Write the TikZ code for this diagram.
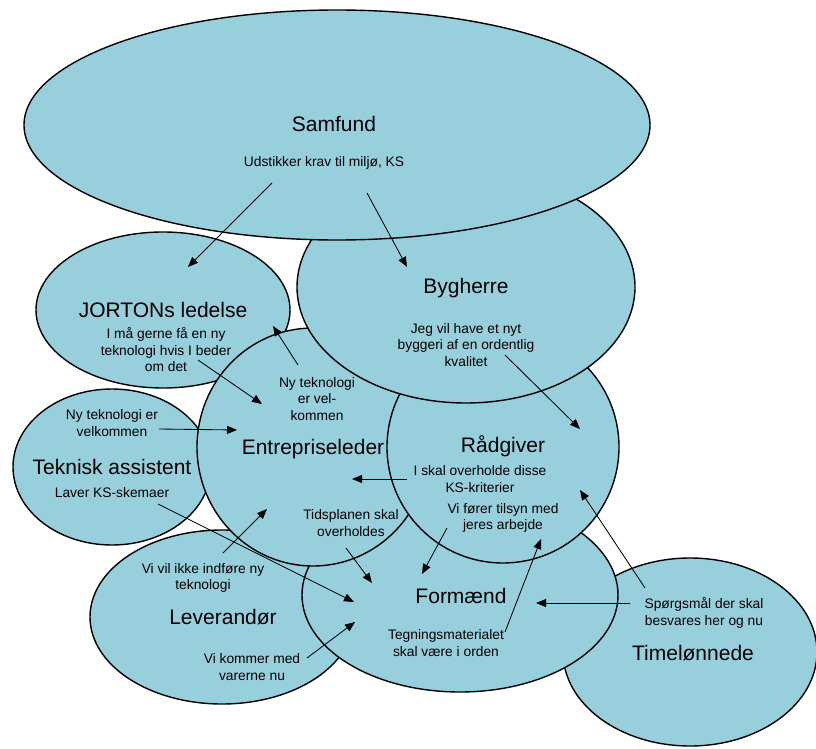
\documentclass[tikz,border=0pt]{standalone}
\usepackage{fontspec}
\setmainfont{Liberation Sans}
\usetikzlibrary{shapes.geometric,arrows.meta}
\definecolor{blobfill}{RGB}{152,207,221}
\begin{document}
\begin{tikzpicture}[x=1pt,y=-1pt,
  blob/.style={ellipse, draw=black, line width=1.4pt, fill=blobfill, inner sep=0pt},
  title/.style={font=\fontsize{21}{24}\selectfont, inner sep=0pt},
  note/.style={font=\fontsize{13.8}{16.5}\selectfont, align=center, inner sep=0pt},
  link/.style={line width=0.85pt, -{Triangle[length=10pt,width=8pt]}}
]
\useasboundingbox (0,0) rectangle (816,749);

% actors, drawn from back to front
\node[blob, minimum width=254pt, minimum height=188pt] (timel) at (690,652) {};
\node[blob, minimum width=264pt, minimum height=174pt] (lever) at (222,617) {};
\node[blob, minimum width=198pt, minimum height=156pt] (teknisk) at (112,467) {};
\node[blob, minimum width=316pt, minimum height=194pt] (formaend) at (460,595) {};
\node[blob, minimum width=254pt, minimum height=156pt] (jorton) at (163,310) {};
\node[blob, minimum width=232pt, minimum height=238pt] (entre) at (313,447) {};
\node[blob, minimum width=232pt, minimum height=232pt] (raad) at (503,447) {};
\node[blob, minimum width=338pt, minimum height=232pt] (byg) at (466,287) {};
\node[blob, minimum width=626pt, minimum height=230pt] (samf) at (337,125) {};

% names and statements
\node[title] (samfT) at (334,124) {Samfund};
\node[note] (samfN) at (324,163) {Udstikker krav til miljø, KS};
\node[title] (jortT) at (163,310) {JORTONs ledelse};
\node[note] (jortN) at (166,350) {I må gerne få en ny\\teknologi hvis I beder\\om det};
\node[title] (bygT) at (466,288) {Bygherre};
\node[note] (bygN) at (466,345) {Jeg vil have et nyt\\byggeri af en ordentlig\\kvalitet};
\node[title] (entT) at (313,449) {Entrepriseleder};
\node[note] (entN1) at (317,399) {Ny teknologi\\er vel-\\kommen};
\node[note] (entN2) at (351,523) {Tidsplanen skal\\overholdes};
\node[title] (tekT) at (112,467) {Teknisk assistent};
\node[note] (tekN1) at (112,423) {Ny teknologi er\\velkommen};
\node[note] (tekN2) at (112,493) {Laver KS-skemaer};
\node[title] (raadT) at (503,446) {Rådgiver};
\node[note] (raadN1) at (480,479) {I skal overholde disse\\KS-kriterier};
\node[note] (raadN2) at (503,518) {Vi fører tilsyn med\\jeres arbejde};
\node[title] (formT) at (461,596) {Formænd};
\node[note] (formN) at (446,643) {Tegningsmaterialet\\skal være i orden};
\node[title] (levT) at (223,617) {Leverandør};
\node[note] (levN1) at (203,578) {Vi vil ikke indføre ny\\teknologi};
\node[note] (levN2) at (252,667) {Vi kommer med\\varerne nu};
\node[title] (timT) at (693,653) {Timelønnede};
\node[note] (timN) at (704,613) {Spørgsmål der skal\\besvares her og nu};

% arrow ends
\coordinate (a1s) at (272,183);  \coordinate (a1e) at (188,267);
\coordinate (a2s) at (367,193);  \coordinate (a2e) at (407,267);
\coordinate (a3s) at (198,360);  \coordinate (a3e) at (262,404);
\coordinate (a4s) at (298,365);  \coordinate (a4e) at (273,326);
\coordinate (a5s) at (159,429);  \coordinate (a5e) at (237,430);
\coordinate (a6s) at (407,479);  \coordinate (a6e) at (352,479);
\coordinate (a7s) at (158,504);  \coordinate (a7e) at (354,602);
\coordinate (a8s) at (223,553);  \coordinate (a8e) at (267,509);
\coordinate (a9s) at (346,548);  \coordinate (a9e) at (372,583);
\coordinate (a10s) at (447,528); \coordinate (a10e) at (422,574);
\coordinate (a11s) at (307,658); \coordinate (a11e) at (355,622);
\coordinate (a12s) at (505,355); \coordinate (a12e) at (580,429);
\coordinate (a13s) at (505,632); \coordinate (a13e) at (541,539);
\coordinate (a14s) at (645,588); \coordinate (a14e) at (580,490);
\coordinate (a15s) at (630,603); \coordinate (a15e) at (536,603);

% messages between actors
\foreach \i in {1,...,15} \draw[link] (a\i s) -- (a\i e);
\end{tikzpicture}
\end{document}
